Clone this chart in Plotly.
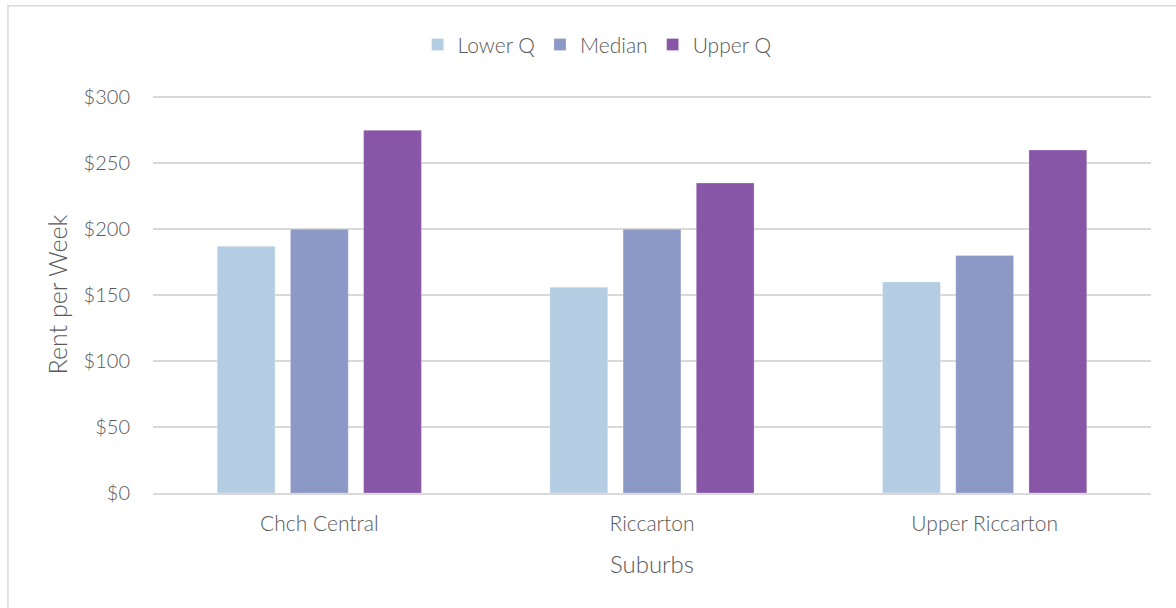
import plotly.graph_objects as go

suburbs = ["Chch Central", "Riccarton", "Upper Riccarton"]
lower_q = [187, 156, 160]
median = [200, 200, 180]
upper_q = [275, 235, 260]
y_ticks = [0, 50, 100, 150, 200, 250, 300]
y_tick_labels = ["$0", "$50", "$100", "$150", "$200", "$250", "$300"]

series = [
    ("Lower Q", lower_q, "#B4CDE2"),
    ("Median", median, "#8C98C6"),
    ("Upper Q", upper_q, "#8856A7"),
]

FONT = "Lato"
TEXT = "#595959"
GRID = "#D9D9D9"

fig = go.Figure()
for name, vals, col in series:
    fig.add_trace(go.Bar(
        x=suburbs, y=vals, name=name,
        marker=dict(color=col, line=dict(color="rgba(255,255,255,0.5)", width=0.5)),
    ))

fig.update_layout(
    width=1176, height=608,
    margin=dict(l=153, r=25, t=96, b=115),
    paper_bgcolor="white", plot_bgcolor="white",
    barmode="group", bargap=0.34, bargroupgap=0.21,
    font=dict(family=FONT, color=TEXT, size=18, weight=300),
    showlegend=True,
    legend=dict(
        orientation="h", x=0.445, xanchor="center", y=1.129, yanchor="middle",
        font=dict(size=21, color=TEXT, family=FONT, weight=300),
        itemwidth=30, traceorder="normal",
    ),
    xaxis=dict(
        showgrid=False, showline=True, linecolor=GRID, linewidth=1.5,
        ticks="", ticklabelstandoff=11,
        tickfont=dict(size=21, color=TEXT, family=FONT, weight=300),
        title=dict(text="Suburbs", font=dict(size=24, color=TEXT, family=FONT, weight=300), standoff=22),
    ),
    yaxis=dict(
        range=[0, 301], tickvals=y_ticks, ticktext=y_tick_labels,
        showgrid=True, gridcolor=GRID, gridwidth=1.5, zeroline=False,
        ticks="", ticklen=0, ticklabelstandoff=22,
        tickfont=dict(size=20, color=TEXT, family=FONT, weight=300),
        title=dict(text="Rent per Week", font=dict(size=25, color=TEXT, family=FONT, weight=300), standoff=8),
    ),
    shapes=[dict(
        type="rect", xref="paper", yref="paper",
        x0=-0.1453, y0=-0.5, x1=1.2, y1=1.2273,
        line=dict(color=GRID, width=1.5), fillcolor="rgba(0,0,0,0)", layer="below",
    )],
)

fig.write_html("out.html")
